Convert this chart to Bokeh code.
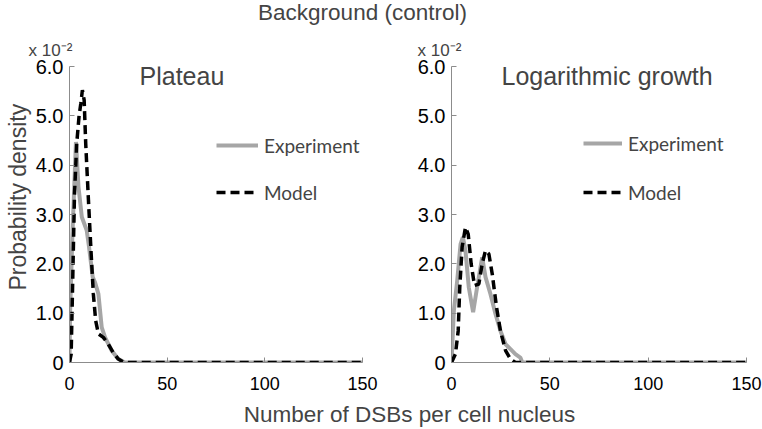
import math
from bokeh.plotting import figure
from bokeh.models import (Range1d, FixedTicker, CustomJSTickFormatter, Label,
                          Legend, LegendItem, Title)
from bokeh.layouts import column, row
from bokeh.embed import file_html
from bokeh.resources import INLINE

# ---- data (probability density in units of 1e-2) ----
plateau_exp_x = [0, 0.3, 1.5, 3.3, 4.6, 6.3, 8.8, 10, 11.9, 13.1, 14.8, 16.5, 18.2, 21.6, 25, 28.4, 150]
plateau_exp_y = [0, 1.0, 2.6, 4.47, 3.56, 2.95, 2.68, 2.34, 1.73, 1.62, 1.39, 0.71, 0.51, 0.24, 0.07, 0, 0]
plateau_mod_x = [0, 0.85, 1.5, 2.55, 3.7, 4.9, 5.8, 6.6, 7.5, 8.3, 9.7, 11, 12.2, 13.4, 14.8, 17.3, 19.9, 22.4, 25, 27.6, 30, 150]
plateau_mod_y = [0, 0.17, 1.39, 3.4, 4.44, 5.0, 5.25, 5.52, 5.32, 4.44, 3.29, 2.27, 1.39, 0.85, 0.58, 0.51, 0.37, 0.2, 0.07, 0.01, 0, 0]

log_exp_x = [0, 1.2, 2.9, 4.6, 5.8, 7.1, 8.8, 11, 13, 15.6, 17.3, 19.8, 22.4, 24.9, 27.5, 30, 32.5, 35, 36, 150]
log_exp_y = [0, 1.05, 1.66, 2.4, 2.54, 2.27, 1.52, 1.02, 1.52, 2.13, 1.73, 1.39, 0.98, 0.64, 0.37, 0.27, 0.17, 0.1, 0, 0]
log_mod_x = [0, 2, 3.4, 4.2, 5.4, 7.1, 8.5, 10, 11.7, 13.9, 15.6, 17.3, 19, 20.7, 22.9, 24.9, 27.5, 30, 32.5, 150]
log_mod_y = [0, 0.17, 0.64, 1.52, 2.34, 2.74, 2.6, 2.0, 1.56, 1.59, 2.0, 2.27, 2.2, 1.8, 1.12, 0.64, 0.24, 0.07, 0, 0]

x_ticks = [0, 50, 100, 150]
y_ticks = [0, 1, 2, 3, 4, 5, 6]

GRAY = "#a6a6a6"
AXIS = "#8c8c8c"
ARIAL = "Liberation Sans"
CAL = "Lato"


def panel(width, left, right, title, title_x, ex, ey, mx, my, leg_x, glyph_w, spacing,
          exp_offset, ylabel=False):
    p = figure(width=width, height=370, output_backend="svg", toolbar_location=None,
               x_range=Range1d(0, 150), y_range=Range1d(0, 6),
               min_border_left=left, min_border_right=right,
               min_border_top=38, min_border_bottom=36)
    p.outline_line_color = None
    p.grid.visible = False
    for ax in (p.xaxis[0], p.yaxis[0]):
        ax.axis_line_color = AXIS
        ax.major_tick_line_color = AXIS
        ax.major_tick_in = 5
        ax.major_tick_out = 0
        ax.minor_tick_line_color = None
        ax.major_label_text_font = ARIAL
        ax.major_label_text_color = "black"
    p.xaxis.ticker = FixedTicker(ticks=x_ticks)
    p.yaxis.ticker = FixedTicker(ticks=y_ticks)
    p.yaxis.formatter = CustomJSTickFormatter(code="return tick == 0 ? '0' : tick.toFixed(1);")
    p.xaxis.major_label_text_font_size = "18px"
    p.yaxis.major_label_text_font_size = "20px"
    p.xaxis.major_label_standoff = 14
    p.yaxis.major_label_standoff = 6

    # "x 10^-2" scale note above the y axis
    p.title.text = "x 10\u207b\u00b2"
    p.title.text_font = ARIAL
    p.title.text_font_size = "17px"
    p.title.text_font_style = "normal"
    p.title.align = "left"
    p.title.offset = exp_offset
    p.title.standoff = 13

    if ylabel:
        p.add_layout(Title(text="Probability density", align="left", offset=72,
                           standoff=4, text_font=ARIAL, text_font_size="23px",
                           text_font_style="normal"), "left")

    r1 = p.line(ex, ey, line_color=GRAY, line_width=4)
    r2 = p.line(mx, my, line_color="black", line_width=3.5, line_dash="9 5")

    leg = Legend(items=[LegendItem(label="Experiment", renderers=[r1]),
                        LegendItem(label="Model", renderers=[r2])],
                 location=(leg_x, 158), padding=0, margin=0,
                 background_fill_alpha=0, border_line_alpha=0,
                 glyph_width=glyph_w, glyph_height=24, label_height=24,
                 spacing=spacing, label_standoff=6,
                 label_text_font=CAL, label_text_font_size="19px")
    p.add_layout(leg)

    p.add_layout(Label(x=title_x, y=287, x_units="screen", y_units="screen", text=title,
                       text_font=ARIAL, text_font_size="25px", text_baseline="alphabetic"))
    return p


p1 = panel(388, 68, 26, "Plateau", 70, plateau_exp_x, plateau_exp_y,
           plateau_mod_x, plateau_mod_y, 147, 42, 23, -41, ylabel=True)
p2 = panel(374, 63, 16, "Logarithmic growth", 50, log_exp_x, log_exp_y,
           log_mod_x, log_mod_y, 132, 39, 25, -34)


def text_strip(height, txt, cx, y, font, size):
    f = figure(width=762, height=height, output_backend="svg", toolbar_location=None,
               x_range=Range1d(0, 1), y_range=Range1d(0, 1),
               x_axis_type=None, y_axis_type=None, min_border=0)
    f.outline_line_color = None
    f.grid.visible = False
    f.add_layout(Label(x=cx, y=y, x_units="screen", y_units="screen", text=txt,
                       text_align="center", text_baseline="alphabetic",
                       text_font=font, text_font_size=size))
    return f


top = text_strip(28, "Background (control)", 362, 16, ARIAL, "22.5px")
bottom = text_strip(31, "Number of DSBs per cell nucleus", 409, 15, ARIAL, "22.5px")

layout = column(top, row(p1, p2), bottom)
open("out.html", "w").write(file_html(layout, INLINE))
